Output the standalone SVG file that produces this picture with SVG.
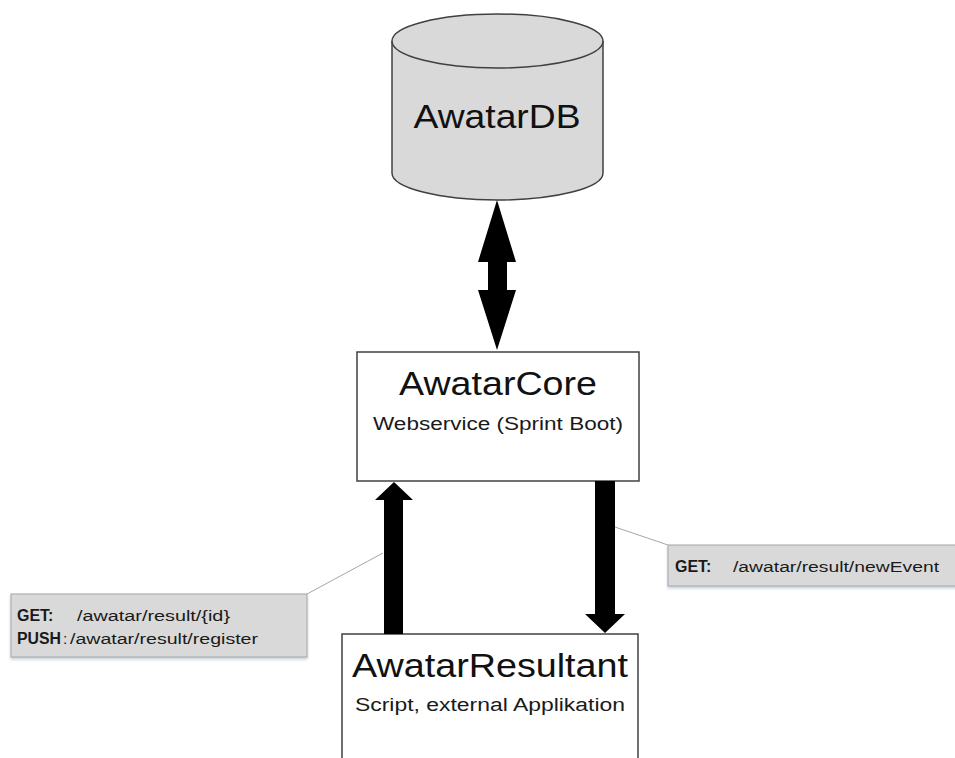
<svg xmlns="http://www.w3.org/2000/svg" width="955" height="758" viewBox="0 0 955 758">
  <defs>
    <style>
      .shape { stroke: #404040; stroke-width: 1.5; }
      .title { font-family: "Liberation Sans", Arial, sans-serif; font-size: 34px; fill: #111; text-anchor: middle; }
      .sub { font-family: "Liberation Sans", Arial, sans-serif; font-size: 18px; fill: #1a1a1a; text-anchor: middle; }
      .note { fill: #d9d9d9; stroke: #a6a6a6; stroke-width: 1; }
      .note-text { font-family: "Liberation Sans", Arial, sans-serif; font-size: 15.5px; fill: #1a1a1a; }
      .bold { font-weight: bold; font-size: 16px; }
      .leader { stroke: #a6a6a6; stroke-width: 1; fill: none; }
      .arrow { fill: #000; }
    </style>
    <filter id="shadow" x="-10%" y="-10%" width="120%" height="140%">
      <feGaussianBlur in="SourceAlpha" stdDeviation="1.5"/>
      <feOffset dx="0" dy="2" result="b"/>
      <feFlood flood-color="#9fb4cc" flood-opacity="0.6"/>
      <feComposite in2="b" operator="in"/>
      <feMerge><feMergeNode/><feMergeNode in="SourceGraphic"/></feMerge>
    </filter>
  </defs>

  <!-- Database cylinder -->
  <g id="awatar-db">
    <path class="shape" fill="#d9d9d9" d="M392,41 L392,173 A105.5,27 0 0 0 603,173 L603,41"/>
    <ellipse class="shape" fill="#d9d9d9" cx="497.5" cy="41" rx="105.5" ry="27"/>
    <text class="title" x="497" y="128" textLength="167" lengthAdjust="spacingAndGlyphs">AwatarDB</text>
  </g>

  <!-- Core web service -->
  <g id="awatar-core">
    <rect class="shape" fill="#fff" x="357" y="352" width="282" height="129"/>
    <text class="title" x="498" y="395" textLength="198" lengthAdjust="spacingAndGlyphs">AwatarCore</text>
    <text class="sub" x="498" y="430" textLength="250" lengthAdjust="spacingAndGlyphs">Webservice (Sprint Boot)</text>
  </g>

  <!-- Result client -->
  <g id="awatar-resultant">
    <rect class="shape" fill="#fff" x="342" y="634" width="296" height="140"/>
    <text class="title" x="490" y="677" textLength="276" lengthAdjust="spacingAndGlyphs">AwatarResultant</text>
    <text class="sub" x="490" y="711" textLength="270" lengthAdjust="spacingAndGlyphs">Script, external Applikation</text>
  </g>

  <!-- Connectors -->
  <g id="connectors">
    <!-- DB <-> Core -->
    <polygon class="arrow" points="497,200 516,262 507,262 507,290 516,290 497,350 478,290 488,290 488,262 478,262"/>
    <!-- Resultant -> Core -->
    <polygon class="arrow" points="394,482 413,500 403,500 403,634 384,634 384,500 375,500"/>
    <!-- Core -> Resultant -->
    <polygon class="arrow" points="595,481 615,481 615,614 625,614 605,633 585,614 595,614"/>
  </g>

  <!-- Callout: requests sent to the core -->
  <g id="note-left">
    <line class="leader" x1="383" y1="553" x2="307" y2="594"/>
    <rect class="note" x="11" y="594" width="296" height="63" filter="url(#shadow)"/>
    <text class="note-text bold" x="17" y="621">GET:</text>
    <text class="note-text" x="77" y="621" textLength="153" lengthAdjust="spacingAndGlyphs">/awatar/result/{id}</text>
    <text class="note-text bold" x="17" y="644" textLength="44" lengthAdjust="spacingAndGlyphs">PUSH</text>
    <text class="note-text" x="63" y="644">:</text>
    <text class="note-text" x="70" y="644" textLength="188" lengthAdjust="spacingAndGlyphs">/awatar/result/register</text>
  </g>

  <!-- Callout: events pulled from the core -->
  <g id="note-right">
    <line class="leader" x1="615" y1="527" x2="668" y2="545"/>
    <rect class="note" x="668" y="545" width="290" height="41" filter="url(#shadow)"/>
    <text class="note-text bold" x="675" y="572">GET:</text>
    <text class="note-text" x="733" y="572" textLength="206" lengthAdjust="spacingAndGlyphs">/awatar/result/newEvent</text>
  </g>
</svg>
